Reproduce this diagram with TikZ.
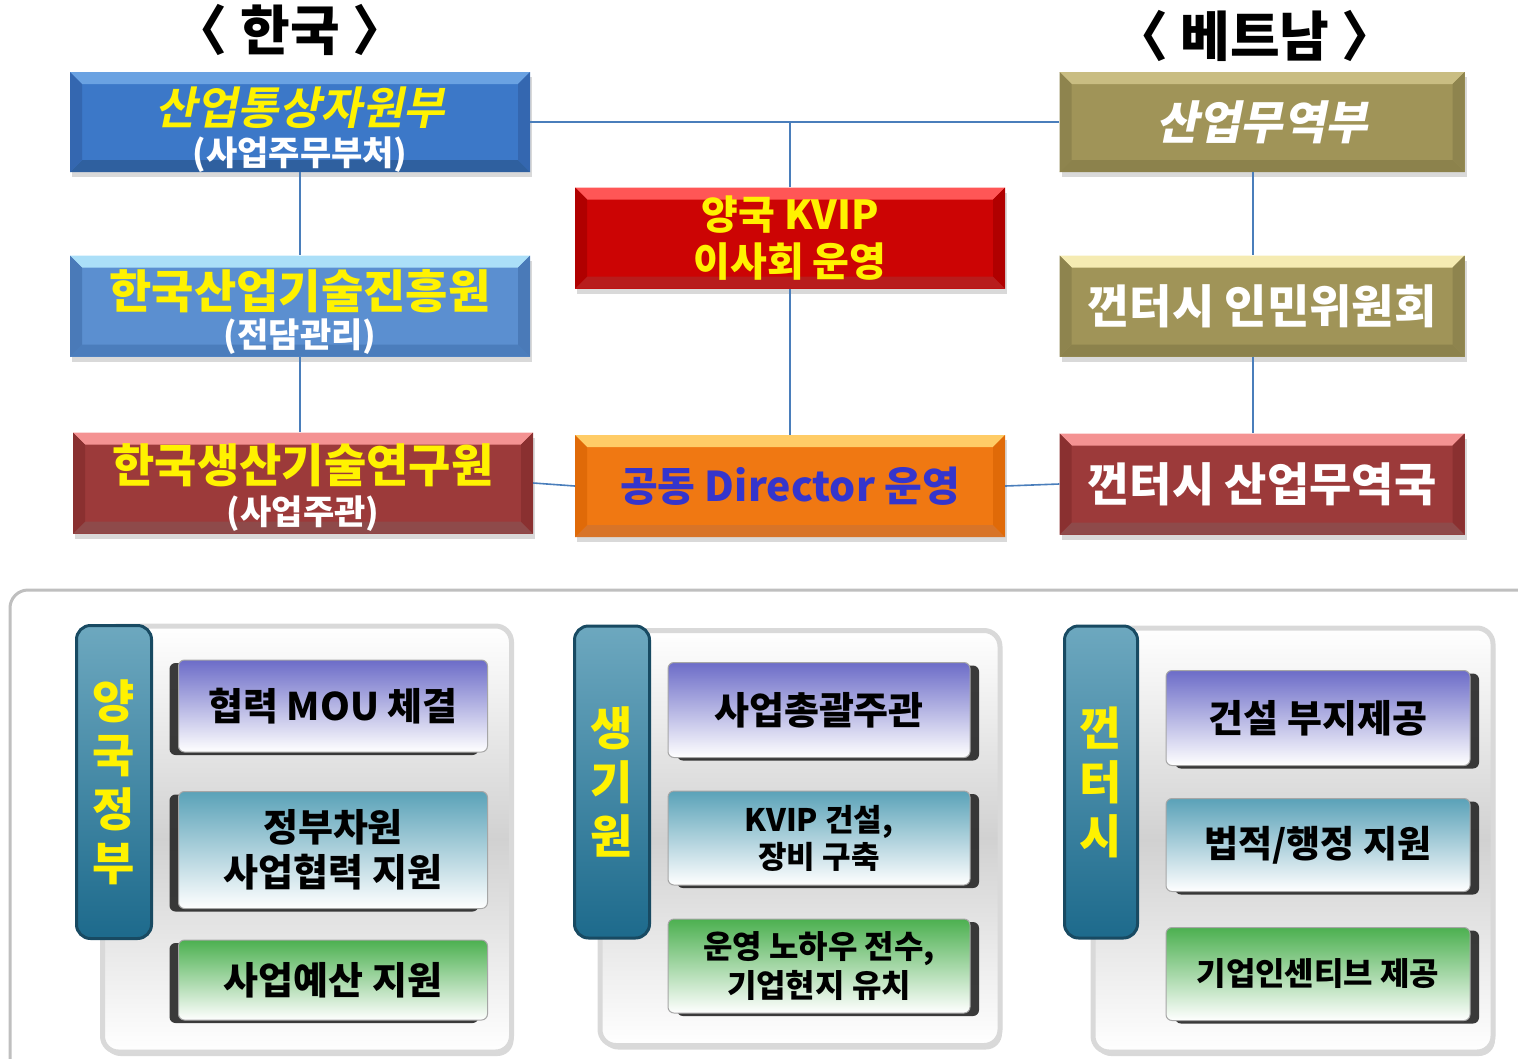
\documentclass[tikz,border=0pt]{standalone}
\usepackage{fontspec}
\setmainfont{Noto Sans CJK KR}[BoldFont={Noto Sans CJK KR Black}]
\newfontfamily\slantkr{Noto Sans CJK KR Black}[FakeSlant=0.2]
\usetikzlibrary{shadows}
\definecolor{wireblue}{HTML}{4A7EBB}
\definecolor{kblue}{HTML}{3C78C8}
\definecolor{kbluetop}{HTML}{6AA2E2}
\definecolor{kbluebot}{HTML}{2F609F}
\definecolor{kblueside}{HTML}{3467B0}
\definecolor{lblue}{HTML}{5B8FD0}
\definecolor{lbluetop}{HTML}{ABDFF8}
\definecolor{lbluebot}{HTML}{4B7DBC}
\definecolor{lblueside}{HTML}{4A7AB8}
\definecolor{dred}{HTML}{9C3A3A}
\definecolor{dredtop}{HTML}{F49292}
\definecolor{dredbot}{HTML}{8E4A4A}
\definecolor{dredside}{HTML}{8A3030}
\definecolor{bred}{HTML}{CC0404}
\definecolor{bredtop}{HTML}{FF5656}
\definecolor{bredbot}{HTML}{B81C1C}
\definecolor{bredside}{HTML}{B00000}
\definecolor{orng}{HTML}{F07812}
\definecolor{orngtop}{HTML}{FFCC66}
\definecolor{orngbot}{HTML}{D87428}
\definecolor{orngside}{HTML}{E06A08}
\definecolor{olive}{HTML}{A09458}
\definecolor{olivetop}{HTML}{C9BD82}
\definecolor{olivepale}{HTML}{F5EBB2}
\definecolor{olivebot}{HTML}{8C824C}
\definecolor{oliveside}{HTML}{8E844E}
\definecolor{dirblue}{HTML}{3535CC}
\definecolor{tabtop}{HTML}{6DA8BF}
\definecolor{tabbot}{HTML}{1D6A8C}
\definecolor{tabline}{HTML}{184A62}
\definecolor{itemviolet}{HTML}{6C6CC8}
\definecolor{itemteal}{HTML}{5AA2B8}
\definecolor{itemgreen}{HTML}{4CB050}
\begin{document}
\begin{tikzpicture}[x=1pt,y=-1pt,
        bevelbox/.style n args={4}{inner sep=0pt, align=center, fill=#1,
            drop shadow={shadow xshift=2pt, shadow yshift=-5pt, opacity=0.3},
            path picture={
                \fill[#2] (path picture bounding box.north west) -- (path picture bounding box.north east)
                    -- ([shift={(-12pt,-12pt)}]path picture bounding box.north east)
                    -- ([shift={(12pt,-12pt)}]path picture bounding box.north west) -- cycle;
                \fill[#3] (path picture bounding box.south west) -- (path picture bounding box.south east)
                    -- ([shift={(-12pt,12pt)}]path picture bounding box.south east)
                    -- ([shift={(12pt,12pt)}]path picture bounding box.south west) -- cycle;
                \fill[#4] (path picture bounding box.north west) -- ([shift={(12pt,-12pt)}]path picture bounding box.north west)
                    -- ([shift={(12pt,12pt)}]path picture bounding box.south west) -- (path picture bounding box.south west) -- cycle;
                \fill[#4] (path picture bounding box.north east) -- ([shift={(-12pt,-12pt)}]path picture bounding box.north east)
                    -- ([shift={(-12pt,12pt)}]path picture bounding box.south east) -- (path picture bounding box.south east) -- cycle;
            }},
        wire/.style={draw=wireblue, line width=1.6pt},
        title/.style={font=\bfseries\fontsize{54}{56}\selectfont},
        panel/.style={rounded corners=16pt, draw=black!15, line width=5pt,
            top color=white, bottom color=white, middle color=black!18,
            drop shadow={shadow xshift=2pt, shadow yshift=-4pt, opacity=0.3}},
        tab/.style={rounded corners=14pt, draw=tabline, line width=3pt,
            top color=tabtop, bottom color=tabbot, align=center, text=yellow,
            font=\bfseries\fontsize{46}{54}\selectfont},
        itembox/.style 2 args={rounded corners=6pt, draw=black!35, line width=1pt,
            top color=#1, middle color=#1!18!white, bottom color=white, align=center,
            font=\bfseries\fontsize{38}{45}\selectfont,
            drop shadow={shadow xshift=#2, shadow yshift=-3pt, fill=black!85, opacity=0.9}}
    ]
    \useasboundingbox (0,0) rectangle (1518,1058);

    \node[title] (kor) at (290,30) {〈 한국 〉};
    \node[title] (vnm) at (1255,36) {〈 베트남 〉};

    \node[bevelbox={kblue}{kbluetop}{kbluebot}{kblueside}, minimum width=460pt, minimum height=100pt,
        font=\bfseries\fontsize{45}{44}\selectfont] (motie) at (300,122)
        {\rule{0pt}{52pt}\textcolor{yellow}{\slantkr 산업통상자원부}\\[-3pt]\textcolor{white}{\fontsize{34}{34}\selectfont (사업주무부처)}};
    \node[bevelbox={lblue}{lbluetop}{lbluebot}{lblueside}, minimum width=460pt, minimum height=101pt,
        font=\bfseries\fontsize{46}{43}\selectfont] (kiat) at (300,306)
        {\rule{0pt}{50pt}\textcolor{yellow}{한국산업기술진흥원}\\[-4pt]\textcolor{white}{\fontsize{34}{34}\selectfont (전담관리)}};
    \node[bevelbox={dred}{dredtop}{dredbot}{dredside}, minimum width=460pt, minimum height=101pt,
        font=\bfseries\fontsize{46}{45}\selectfont] (kitech) at (303,483)
        {\rule{0pt}{48pt}\textcolor{yellow}{한국생산기술연구원}\\[-3pt]\textcolor{white}{\fontsize{34}{34}\selectfont (사업주관)}};

    \node[bevelbox={bred}{bredtop}{bredbot}{bredside}, minimum width=430pt, minimum height=101pt,
        font=\bfseries\fontsize{40}{47}\selectfont, text=yellow] (board) at (790,238)
        {양국 KVIP\\이사회 운영};
    \node[bevelbox={orng}{orngtop}{orngbot}{orngside}, minimum width=430pt, minimum height=102pt,
        font=\bfseries\fontsize{41}{42}\selectfont, text=dirblue] (director) at (790,486)
        {공동 Director 운영};

    \node[bevelbox={olive}{olivetop}{olivebot}{oliveside}, minimum width=405pt, minimum height=100pt,
        font=\slantkr\fontsize{46}{46}\selectfont, text=white] (moit) at (1262,122)
        {산업무역부};
    \node[bevelbox={olive}{olivepale}{olivebot}{oliveside}, minimum width=405pt, minimum height=101pt,
        font=\bfseries\fontsize{46}{46}\selectfont, text=white] (ctpc) at (1262,306)
        {껀터시 인민위원회};
    \node[bevelbox={dred}{dredtop}{dredbot}{dredside}, minimum width=405pt, minimum height=101pt,
        font=\bfseries\fontsize{46}{46}\selectfont, text=white] (doit) at (1262,484)
        {껀터시 산업무역국};

    \draw[wire] (motie.east) -- (moit.west);
    \draw[wire] (board.north) -- (board.north |- motie.east);
    \draw[wire] (board.south) -- (director.north);
    \draw[wire] (motie.south) -- (kiat.north);
    \draw[wire] (kiat.south) -- (kiat.south |- kitech.north);
    \draw[wire] (kitech.east) -- (director.west);
    \draw[wire] (director.east) -- (doit.west);
    \draw[wire] ([xshift=-9pt]moit.south) -- ([xshift=-9pt]ctpc.north);
    \draw[wire] ([xshift=-9pt]ctpc.south) -- ([xshift=-9pt]doit.north);

    \draw[draw=black!25, line width=3pt, rounded corners=18pt] (10,590) rectangle (1545,1085);

    \node[panel, minimum width=409pt, minimum height=426pt] (gov) at (307,839) {};
    \node[panel, minimum width=400pt, minimum height=415pt] (kit) at (800,838) {};
    \node[panel, minimum width=400pt, minimum height=424pt] (ct) at (1293,840) {};

    \node[tab, minimum width=75pt, minimum height=313pt] (govtab) at (114,782) {양\\국\\정\\부};
    \node[tab, minimum width=75pt, minimum height=312pt] (kittab) at (612,782) {생\\기\\원};
    \node[tab, minimum width=73pt, minimum height=312pt] (cttab) at (1101,782) {껀\\터\\시};

    \node[itembox={itemviolet}{-9pt}, minimum width=309pt, minimum height=92pt] (gova) at (333,706) {협력 MOU 체결};
    \node[itembox={itemteal}{-9pt}, minimum width=309pt, minimum height=117pt] (govb) at (333,850) {정부차원\\사업협력 지원};
    \node[itembox={itemgreen}{-9pt}, minimum width=309pt, minimum height=80pt] (govc) at (333,980) {사업예산 지원};

    \node[itembox={itemviolet}{9pt}, minimum width=302pt, minimum height=95pt] (kita) at (819,710) {사업총괄주관};
    \node[itembox={itemteal}{9pt}, minimum width=302pt, minimum height=94pt,
        font=\bfseries\fontsize{31}{37}\selectfont] (kitb) at (819,838) {KVIP 건설,\\장비 구축};
    \node[itembox={itemgreen}{9pt}, minimum width=302pt, minimum height=94pt,
        font=\bfseries\fontsize{32}{39}\selectfont] (kitc) at (819,966) {운영 노하우 전수,\\기업현지 유치};

    \node[itembox={itemviolet}{9pt}, minimum width=304pt, minimum height=95pt] (cta) at (1318,718) {건설 부지제공};
    \node[itembox={itemteal}{9pt}, minimum width=304pt, minimum height=93pt,
        font=\bfseries\fontsize{37}{40}\selectfont] (ctb) at (1318,845) {법적/행정 지원};
    \node[itembox={itemgreen}{9pt}, minimum width=304pt, minimum height=93pt,
        font=\bfseries\fontsize{32}{36}\selectfont] (ctc) at (1318,974) {기업인센티브 제공};
\end{tikzpicture}
\end{document}
